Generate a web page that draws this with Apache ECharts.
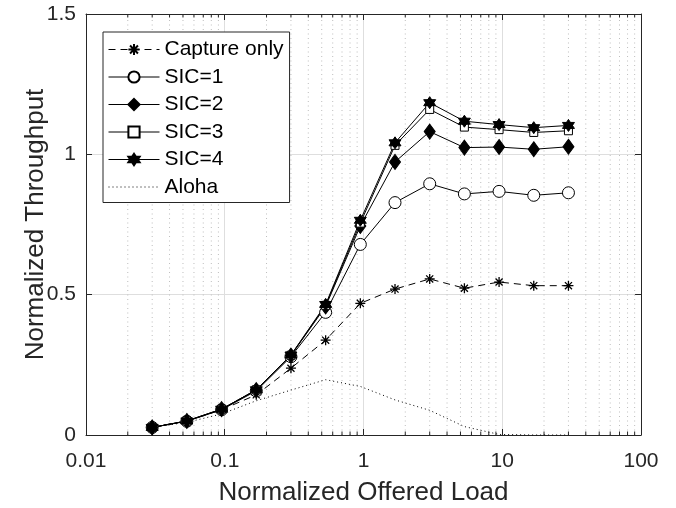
<!DOCTYPE html>
<html>
<head>
<meta charset="utf-8">
<script src="https://cdn.jsdelivr.net/npm/echarts@6/dist/echarts.min.js"></script>
<style>
  html, body { margin: 0; padding: 0; background: #fff; }
  #chart { width: 676px; height: 508px; }
</style>
</head>
<body>
<div id="chart"></div>
<script>
// Offered load (log-spaced) and throughput per scheme
const offeredLoad = [0.03, 0.0533, 0.0949, 0.1687, 0.3, 0.5335, 0.9487, 1.687, 3, 5.335, 9.487, 16.87, 30];
const captureOnly = [0.028, 0.050, 0.090, 0.143, 0.238, 0.338, 0.469, 0.520, 0.556, 0.523, 0.545, 0.532, 0.532];
const sic1 = [0.027, 0.049, 0.090, 0.157, 0.279, 0.437, 0.679, 0.828, 0.895, 0.859, 0.868, 0.854, 0.863];
const sic2 = [0.027, 0.050, 0.092, 0.160, 0.283, 0.458, 0.745, 0.973, 1.081, 1.024, 1.026, 1.018, 1.027];
const sic3 = [0.027, 0.050, 0.092, 0.161, 0.284, 0.462, 0.755, 1.032, 1.160, 1.097, 1.088, 1.078, 1.084];
const sic4 = [0.027, 0.050, 0.092, 0.161, 0.285, 0.465, 0.765, 1.041, 1.184, 1.118, 1.106, 1.095, 1.103];
const aloha = [0.028, 0.045, 0.075, 0.122, 0.160, 0.197, 0.173, 0.125, 0.088, 0.030, 0.002, 0, 0];

const xTickLabels = ['0.01', '0.1', '1', '10', '100'];
const yTickLabels = ['0', '0.5', '1', '1.5'];

// minor log positions 2..9 in every decade
const minorX = [];
[0.01, 0.1, 1, 10].forEach(d => { for (let k = 2; k <= 9; k++) minorX.push([+(d * k).toPrecision(3), 0]); });

const FONT = 'Liberation Sans, Arial, Helvetica, sans-serif';
const INK = '#262626';

const pair = ys => offeredLoad.map((x, i) => [x, ys[i]]);

const asterisk = 'path://M0,-10L0,10M-10,0L10,0M-7.07,-7.07L7.07,7.07M-7.07,7.07L7.07,-7.07';
const hexagram = 'path://M0,-10L8.66,5L-8.66,5ZM0,10L-8.66,-5L8.66,-5Z';

function lineSeries(name, ys, symbol, size, opts) {
  return Object.assign({
    name: name,
    type: 'line',
    data: pair(ys),
    symbol: symbol,
    symbolSize: size,
    showAllSymbol: true,
    lineStyle: { color: '#000', width: 1 },
    itemStyle: { color: '#000', borderColor: '#000', borderWidth: 1 },
    emphasis: { disabled: true },
    animation: false,
    z: 3
  }, opts || {});
}

const chart = echarts.init(document.getElementById('chart'), null, { renderer: 'canvas' });

chart.setOption({
  animation: false,
  textStyle: { fontFamily: FONT },
  grid: { left: 86, top: 14, width: 555, height: 421, containLabel: false, outerBoundsMode: 'none' },
  legend: {
    orient: 'vertical',
    left: 103,
    top: 32,
    padding: [7, 6, 5, 5],
    itemWidth: 51,
    itemHeight: 14,
    itemGap: 6.5,
    backgroundColor: '#fff',
    borderColor: INK,
    borderWidth: 1,
    borderRadius: 0,
    lineStyle: { width: 1 },
    textStyle: { fontFamily: FONT, fontSize: 21, color: '#000' },
    data: ['Capture only', 'SIC=1', 'SIC=2', 'SIC=3', 'SIC=4', 'Aloha']
  },
  xAxis: [{
    type: 'log',
    logBase: 10,
    min: 0.01,
    max: 100,
    splitNumber: 4,
    name: 'Normalized Offered Load',
    nameLocation: 'middle',
    nameGap: 45,
    nameMoveOverlap: false,
    nameTextStyle: { fontFamily: FONT, fontSize: 26, color: INK },
    axisLine: { show: true, onZero: false, lineStyle: { color: INK, width: 1 } },
    axisTick: { show: true, inside: true, length: 6, lineStyle: { color: INK } },
    axisLabel: {
      fontFamily: FONT, fontSize: 21, color: INK, margin: 16,
      formatter: v => {
        const e = Math.round(Math.log10(v));
        return xTickLabels[e + 2] !== undefined ? xTickLabels[e + 2] : '';
      }
    },
    splitLine: { show: true, lineStyle: { color: '#dedede', width: 1 } }
  }, {
    type: 'log',
    logBase: 10,
    min: 0.01,
    max: 100,
    splitNumber: 4,
    position: 'top',
    axisLine: { show: true, onZero: false, lineStyle: { color: INK, width: 1 } },
    axisTick: { show: true, inside: true, length: 6, lineStyle: { color: INK } },
    axisLabel: { show: false },
    splitLine: { show: false }
  }],
  yAxis: [{
    type: 'value',
    min: 0,
    max: 1.5,
    interval: 0.5,
    name: 'Normalized Throughput',
    nameLocation: 'middle',
    nameGap: 37,
    nameMoveOverlap: false,
    nameTextStyle: { fontFamily: FONT, fontSize: 26, color: INK },
    axisLine: { show: true, onZero: false, lineStyle: { color: INK, width: 1 } },
    axisTick: { show: true, inside: true, length: 6, lineStyle: { color: INK } },
    axisLabel: {
      fontFamily: FONT, fontSize: 21, color: INK, margin: 10,
      formatter: v => yTickLabels[Math.round(v / 0.5)]
    },
    splitLine: { show: true, lineStyle: { color: '#dedede', width: 1 } }
  }, {
    type: 'value',
    min: 0,
    max: 1.5,
    interval: 0.5,
    position: 'right',
    axisLine: { show: true, onZero: false, lineStyle: { color: INK, width: 1 } },
    axisTick: { show: true, inside: true, length: 6, lineStyle: { color: INK } },
    axisLabel: { show: false },
    splitLine: { show: false }
  }],
  series: [
    {
      // minor grid lines and minor ticks of the log axis
      name: 'minorGrid',
      type: 'custom',
      silent: true,
      z: 1,
      clip: false,
      data: minorX,
      renderItem: (params, api) => {
        const v = api.value(0);
        const b = api.coord([v, 0]);
        const t = api.coord([v, 1.5]);
        return {
          type: 'group',
          children: [
            { type: 'line', shape: { x1: b[0], y1: b[1], x2: t[0], y2: t[1] },
              style: { stroke: '#bdbdbd', lineWidth: 1, lineDash: [1, 3.5] } },
            { type: 'line', shape: { x1: b[0], y1: b[1], x2: b[0], y2: b[1] - 3.5 },
              style: { stroke: INK, lineWidth: 1 } },
            { type: 'line', shape: { x1: t[0], y1: t[1], x2: t[0], y2: t[1] + 3.5 },
              style: { stroke: INK, lineWidth: 1 } }
          ]
        };
      }
    },
    lineSeries('Aloha', aloha, 'circle', 0, {
      showSymbol: false,
      itemStyle: { color: 'rgba(0,0,0,0)', borderColor: 'rgba(0,0,0,0)', borderWidth: 0 },
      lineStyle: { color: '#000', width: 1, type: [1, 3] }, z: 2
    }),
    lineSeries('Capture only', captureOnly, asterisk, 10, {
      itemStyle: { color: '#000', borderColor: '#000', borderWidth: 1.3 },
      lineStyle: { color: '#000', width: 1, type: [7, 5] }
    }),
    lineSeries('SIC=1', sic1, 'circle', 12, {
      itemStyle: { color: '#fff', borderColor: '#000', borderWidth: 1 }
    }),
    lineSeries('SIC=2', sic2, 'diamond', [11, 15]),
    lineSeries('SIC=3', sic3, 'rect', 8, {
      itemStyle: { color: '#fff', borderColor: '#000', borderWidth: 1 }
    }),
    lineSeries('SIC=4', sic4, hexagram, 12)
  ]
});
</script>
</body>
</html>
